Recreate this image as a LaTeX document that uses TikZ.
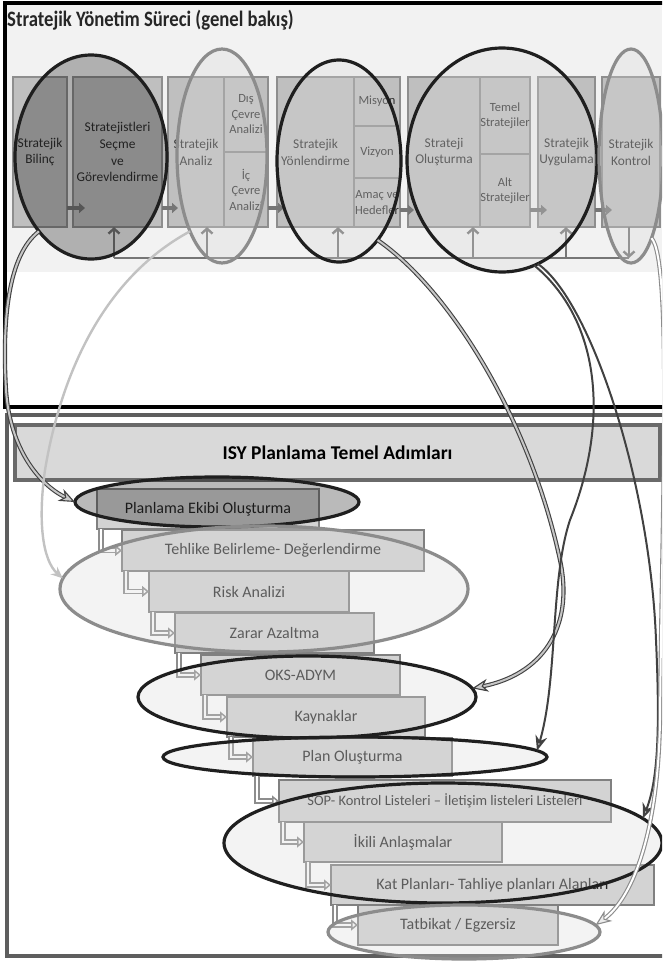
\documentclass[tikz,border=0pt]{standalone}
\usepackage{fontspec}
\setmainfont{Carlito}
\newfontfamily\titlefont[FakeStretch=0.85]{Carlito}
\usetikzlibrary{shapes.geometric,arrows.meta,calc}
\definecolor{boxfill}{HTML}{BFBFBF}
\definecolor{boxline}{HTML}{8E8E8E}
\definecolor{toptxt}{HTML}{2E2E2E}
\definecolor{stepfill}{HTML}{D3D3D3}
\definecolor{stepline}{HTML}{808080}
\definecolor{ringdk}{HTML}{1F1F1F}
\definecolor{ringgy}{HTML}{8C8C8C}
\definecolor{arrgy}{HTML}{767676}
\definecolor{scanbg}{HTML}{F2F2F2}
\definecolor{headfill}{HTML}{D9D9D9}
\definecolor{headline}{HTML}{6A6A6A}
\definecolor{panelgy}{HTML}{5E5E5E}
\definecolor{lightconn}{HTML}{C2C2C2}
\begin{document}
\begin{tikzpicture}[x=1pt,y=-1pt,
  topbox/.style={rectangle,draw=boxline,line width=1.2pt,fill=boxfill,inner sep=0pt,outer sep=0pt,align=center,text=toptxt,font=\fontsize{13.4}{16.8}\selectfont},
  subbox/.style={topbox,font=\fontsize{12.5}{15.5}\selectfont},
  stepbox/.style={rectangle,draw=stepline,line width=2.6pt,fill=stepfill,inner sep=0pt,outer sep=0pt,text=black!85,font=\fontsize{16}{19}\selectfont},
  ringbase/.style={ellipse,inner sep=0pt,outer sep=0pt,line width=3.2pt},
  ringdark/.style={ringbase,draw=ringdk},
  ringgray/.style={ringbase,draw=ringgy},
  darkveil/.style={fill=black,fill opacity=0.27},
  lightveil/.style={fill=gray!30,fill opacity=0.3},
  rarr/.style={draw=arrgy,line width=3.2pt,-{Triangle[length=6pt,width=10pt]}},
  uarr/.style={draw=arrgy,line width=2.4pt,-{Straight Barb[length=5pt,width=11pt]}},
  stepar/.style={draw=stepline!90,line width=1.5pt,double=white,double distance=2.4pt,-{Triangle[length=7pt,width=11pt,fill=white]}},
  connA/.style={draw=ringdk!85,line width=1.1pt,double=gray!45,double distance=2pt,-{Stealth[length=16pt,width=13pt,inset=5pt,fill=gray!40]}},
  connB/.style={draw=ringdk!85,line width=2pt,-{Stealth[length=15pt,width=12pt,inset=5pt,fill=gray!30]}},
  connL/.style={draw=lightconn,line width=2.4pt,-{Stealth[length=12pt,width=10pt,inset=4pt,fill=white]}},
  connG/.style={draw=ringgy,line width=1.1pt,double=white,double distance=2pt,-{Stealth[length=16pt,width=13pt,inset=5pt,fill=gray!15]}},
]
\useasboundingbox (0,0) rectangle (662,961);
\clip (0,0) rectangle (662,961);
\fill[white] (0,0) rectangle (662,961);
% ---------- top panel (scanned slide) ----------
\fill[scanbg] (5,3) rectangle (662,272);
\node[anchor=base west,inner sep=0pt,text=black!85,font={\titlefont\bfseries\fontsize{22}{26}\selectfont}] (title) at (7,27) {Stratejik Yönetim Süreci (genel bakış)};

\node[topbox,minimum width=54pt,minimum height=150pt] (B1) at (40,152) {Stratejik\\Bilinç};
\node[topbox,minimum width=89pt,minimum height=150pt] (B2) at (117.5,152) {Stratejistleri\\Seçme\\ve\\Görevlendirme};
\node[topbox,minimum width=56pt,minimum height=150pt] (B3a) at (196,152) {Stratejik\\Analiz};
\node[subbox,minimum width=44pt,minimum height=75pt] (B3b) at (246,114.5) {Dış\\Çevre\\Analizi};
\node[subbox,minimum width=44pt,minimum height=75pt] (B3c) at (246,189.5) {İç\\Çevre\\Analizi};
\node[topbox,minimum width=77pt,minimum height=150pt] (B4a) at (315.5,152) {Stratejik\\Yönlendirme};
\node[subbox,minimum width=46pt,minimum height=49pt] (B4b) at (377,101.5) {Misyon};
\node[subbox,minimum width=46pt,minimum height=52pt] (B4c) at (377,152) {Vizyon};
\node[subbox,minimum width=46pt,minimum height=49pt] (B4d) at (377,202.5) {Amaç ve\\Hedefler};
\node[topbox,minimum width=72pt,minimum height=150pt] (B5a) at (444,152) {Strateji\\Oluşturma};
\node[subbox,minimum width=50pt,minimum height=77pt] (B5b) at (505,115.5) {Temel\\Stratejiler};
\node[subbox,minimum width=50pt,minimum height=73pt] (B5c) at (505,190.5) {Alt\\Stratejiler};
\node[topbox,minimum width=57pt,minimum height=150pt] (B6) at (566.5,152) {Stratejik\\Uygulama};
\node[topbox,minimum width=58pt,minimum height=150pt] (B7) at (631,152) {Stratejik\\Kontrol};

\draw[rarr] (B1.east |- 0,208) -- ++(18,0);
\draw[rarr] (B2.east |- 0,208) -- ++(16,0);
\draw[rarr] (B3c.east |- 0,208) -- ++(16,0);
\draw[rarr] (B4d.east |- 0,210) -- ++(14,0);
\draw[rarr] (B5c.east |- 0,210) -- ++(17,0);
\draw[rarr] (B6.east |- 0,210) -- ++(17,0);

\coordinate (fbL) at (114,258);
\coordinate (fbR) at (629,258);
\draw[arrgy,line width=1.8pt] (fbL) -- (fbR);
\draw[uarr] (fbL) -- (fbL |- B2.south);
\draw[uarr] (207,258) -- (207,0 |- B3a.south);
\draw[uarr] (338,258) -- (338,0 |- B4a.south);
\draw[uarr] (473,258) -- (473,0 |- B5a.south);
\draw[uarr] (566,258) -- (566,0 |- B6.south);
\draw[uarr] (fbR |- B7.south) -- (fbR);

\node[ringdark,darkveil,minimum width=152pt,minimum height=204pt] (E1) at (91,157) {};
\node[ringgray,lightveil,minimum width=90pt,minimum height=214pt] (E2) at (222,156) {};
\node[ringdark,lightveil,minimum width=124pt,minimum height=202pt] (E3) at (339,161) {};
\node[ringdark,lightveil,minimum width=190pt,minimum height=224pt] (E4) at (502,160) {};
\node[ringgray,lightveil,minimum width=64pt,minimum height=214pt] (E5) at (631,156) {};

\draw[black,line width=3.6pt] (5,3) rectangle (700,407);

% ---------- bottom panel ----------
\draw[panelgy,line width=3.4pt] (7,415) rectangle (700,956);
\node[rectangle,draw=headline,line width=3.6pt,fill=headfill,inner sep=0pt,minimum width=645pt,minimum height=55pt,text=black,font={\bfseries\fontsize{19.5}{23}\selectfont}] (head) at (337.5,452.5) {ISY Planlama Temel Adımları};

\node[stepbox,minimum width=222pt,minimum height=40pt] (S1) at (208,509) {Planlama Ekibi Oluşturma};
\node[stepbox,minimum width=302pt,minimum height=41pt] (S2) at (273,550.5) {Tehlike Belirleme- Değerlendirme};
\node[stepbox,minimum width=200pt,minimum height=41pt] (S3) at (249,591.5) {Risk Analizi};
\node[stepbox,minimum width=199pt,minimum height=40pt] (S4) at (274.5,633) {Zarar Azaltma};
\node[stepbox,minimum width=199pt,minimum height=40pt] (S5) at (300.5,675) {OKS-ADYM};
\node[stepbox,minimum width=198pt,minimum height=40pt] (S6) at (326,717) {Kaynaklar};
\node[stepbox,minimum width=199pt,minimum height=38pt] (S7) at (352.5,757) {Plan Oluşturma};
\node[stepbox,minimum width=332pt,minimum height=42pt,font=\fontsize{14.5}{17}\selectfont] (S8) at (445,801) {SOP- Kontrol Listeleri – İletişim listeleri Listeleri};
\node[stepbox,minimum width=198pt,minimum height=40pt] (S9) at (403,842) {İkili Anlaşmalar};
\node[stepbox,minimum width=323pt,minimum height=40pt] (S10) at (492.5,885) {Kat Planları- Tahliye planları Alanları};
\node[stepbox,minimum width=200pt,minimum height=40pt] (S11) at (458,925) {Tatbikat / Egzersiz};

\foreach \a/\b in {S1/S2,S2/S3,S3/S4,S4/S5,S5/S6,S6/S7,S7/S8,S8/S9,S9/S10,S10/S11}
  \draw[stepar] ([xshift=4pt]\a.south west) |- (\b.west);

\node[ringdark,darkveil,minimum width=284pt,minimum height=50pt] (Ea) at (217,502) {};
\node[ringgray,lightveil,minimum width=408pt,minimum height=126pt] (Eb) at (264,589) {};
\node[ringdark,lightveil,minimum width=338pt,minimum height=82pt] (Ec) at (307,697) {};
\node[ringdark,lightveil,minimum width=384pt,minimum height=40pt] (Ed) at (355,757) {};
\node[ringdark,lightveil,minimum width=438pt,minimum height=120pt] (Ee) at (443,843) {};
\node[ringgray,lightveil,minimum width=272pt,minimum height=54pt] (Ef) at (464,932) {};

% ---------- connectors ----------
\draw[connA] (E1.235) .. controls (8,255) and (2,320) .. (6,390) .. controls (10,450) and (40,485) .. (Ea.west);
\draw[connL] (E2.247) .. controls (100,280) and (60,380) .. (45,470) .. controls (38,520) and (42,560) .. (Eb.177);
\draw[connA] (E3.-64) .. controls (450,290) and (530,420) .. (560,560) .. controls (575,630) and (540,675) .. (Ec.3);
\draw[connB] (E4.-73) .. controls (600,320) and (610,420) .. (570,520) .. controls (550,580) and (558,680) .. (Ed.2);
\draw[connB] (E4.-71) .. controls (590,300) and (650,480) .. (656,640) .. controls (660,730) and (658,780) .. (Ee.7);
\draw[connG] (E5.-76) .. controls (672,260) and (662,500) .. (660,720) .. controls (658,840) and (630,900) .. (Ef.3);
\end{tikzpicture}
\end{document}
